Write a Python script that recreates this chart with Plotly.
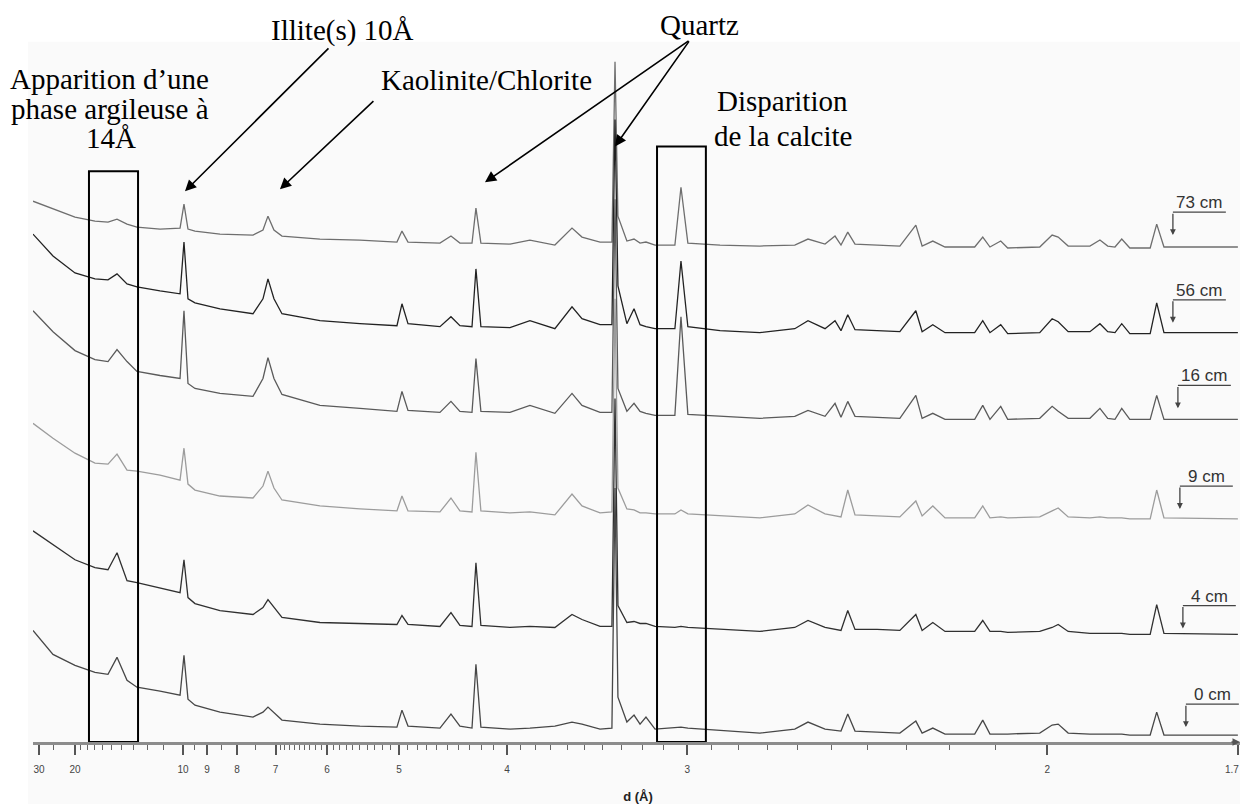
import plotly.graph_objects as go

# ---------------- data ----------------
# d-spacings (Å) at which the diffractograms were sampled
D_GRID = [32.73, 25.12, 20.00, 16.88, 15.32, 14.40, 13.50, 12.71, 11.19, 10.14,
          9.956, 9.776, 9.476, 8.540, 7.554, 7.299, 7.178, 7.038, 6.859, 6.121,
          5.498, 5.025, 4.967, 4.899, 4.568, 4.464, 4.383, 4.278, 4.245, 4.204,
          3.979, 3.838, 3.675, 3.571, 3.513, 3.413, 3.350, 3.334, 3.319, 3.274,
          3.239, 3.210, 3.182, 3.140, 3.052, 3.026, 2.997, 2.869, 2.725, 2.610,
          2.569, 2.518, 2.489, 2.472, 2.453, 2.433, 2.374, 2.316, 2.277, 2.262,
          2.237, 2.209, 2.144, 2.127, 2.112, 2.090, 2.076, 2.014, 1.991, 1.980,
          1.962, 1.924, 1.907, 1.894, 1.882, 1.871, 1.858, 1.826, 1.816, 1.805, 1.700]

# intensities (offset, arbitrary units) for each depth
I_73 = [543, 535, 527, 523, 522, 525, 520, 517, 515, 516,
        540, 515, 513, 510, 509, 514, 528, 514, 508, 505,
        504, 502, 513, 502, 501, 508, 501, 501, 536, 501,
        500, 504, 499, 516, 507, 502, 502, 683, 528, 503,
        505, 501, 502, 499, 499, 557, 501, 499, 498, 499,
        505, 500, 508, 499, 512, 500, 499, 498, 519, 498,
        503, 497, 497, 507, 497, 503, 496, 497, 509, 507,
        498, 498, 504, 498, 497, 505, 496, 496, 520, 497, 497]
I_56 = [510, 488, 471, 465, 464, 470, 460, 457, 453, 450,
        502, 445, 441, 435, 430, 445, 465, 445, 430, 423,
        420, 418, 440, 420, 417, 427, 418, 417, 475, 417,
        416, 423, 415, 437, 425, 419, 419, 625, 458, 420,
        435, 419, 417, 415, 415, 483, 417, 413, 411, 415,
        423, 415, 423, 413, 429, 414, 413, 412, 433, 412,
        419, 411, 411, 423, 411, 419, 410, 411, 425, 422,
        412, 412, 420, 412, 411, 420, 410, 410, 441, 411, 411]
I_16 = [433, 412, 393, 384, 382, 394, 382, 372, 368, 365,
        433, 360, 355, 350, 347, 365, 386, 365, 349, 338,
        335, 332, 352, 333, 331, 342, 332, 331, 385, 332,
        331, 338, 330, 350, 338, 331, 331, 545, 355, 332,
        340, 332, 330, 328, 328, 427, 329, 327, 325, 327,
        333, 327, 340, 326, 342, 327, 326, 325, 348, 325,
        330, 324, 324, 338, 324, 337, 324, 325, 337, 332,
        325, 325, 335, 325, 324, 335, 324, 324, 348, 324, 324]
I_9 = [320, 305, 290, 280, 279, 289, 273, 272, 268, 263,
       295, 259, 253, 247, 245, 257, 272, 255, 243, 237,
       234, 232, 247, 232, 231, 245, 232, 231, 291, 232,
       230, 231, 228, 249, 237, 230, 231, 445, 255, 234,
       233, 230, 230, 229, 229, 233, 229, 227, 225, 229,
       238, 229, 227, 226, 253, 228, 227, 226, 242, 227,
       237, 225, 225, 237, 225, 226, 225, 226, 232, 235,
       226, 225, 226, 225, 225, 225, 224, 224, 253, 225, 224]
I_4 = [212, 198, 183, 175, 173, 190, 162, 160, 155, 150,
       183, 145, 139, 132, 128, 135, 143, 135, 125, 120,
       119, 118, 127, 118, 116, 130, 117, 116, 180, 117,
       115, 116, 115, 128, 123, 116, 116, 345, 137, 120,
       121, 119, 119, 116, 115, 116, 115, 113, 111, 115,
       122, 115, 113, 112, 132, 113, 113, 112, 128, 112,
       120, 111, 111, 122, 111, 111, 110, 111, 115, 118,
       111, 109, 109, 109, 109, 109, 108, 108, 138, 109, 108]
I_0 = [112, 88, 77, 70, 68, 85, 62, 55, 51, 47,
       87, 43, 37, 30, 25, 30, 35, 29, 22, 18,
       16, 15, 32, 16, 14, 28, 16, 14, 78, 15,
       13, 14, 16, 20, 18, 13, 14, 255, 45, 20,
       27, 18, 25, 13, 14, 15, 14, 12, 9, 13,
       20, 13, 12, 11, 28, 11, 10, 9, 21, 9,
       14, 8, 8, 22, 8, 8, 8, 9, 17, 18,
       9, 8, 8, 8, 8, 8, 7, 7, 30, 7, 7]

SAMPLE_NAMES = ["73 cm", "56 cm", "16 cm", "9 cm", "4 cm", "0 cm"]
SAMPLE_SERIES = [I_73, I_56, I_16, I_9, I_4, I_0]

# axis ticks (d in Å); the last label is drawn separately so it stays inside the page
MAJOR_D = [30, 20, 10, 9, 8, 7, 6, 5, 4, 3, 2, 1.7]
MAJOR_LABELS = ["30", "20", "10", "9", "8", "7", "6", "5", "4", "3", "2", ""]
END_LABEL = "1.7"
MINOR_D = ([25] + list(range(19, 10, -1)) + [9.5, 8.5, 7.5]
           + [round(7 - 0.1 * i, 1) for i in range(1, 10)]
           + [round(6 - 0.1 * i, 1) for i in range(1, 10)]
           + [round(5 - 0.1 * i, 1) for i in range(1, 10)]
           + [round(4 - 0.1 * i, 1) for i in range(1, 10)]
           + [round(3 - 0.1 * i, 1) for i in range(1, 10)])

# ---------------- styling / layout ----------------
COLORS = ["#6e6e6e", "#222222", "#5a5a5a", "#9c9c9c", "#303030", "#474747"]
X_RANGE = [0.03056, 0.5906]     # 1/d
Y_RANGE = [0, 737]

# label bracket positions (d of corner, height of arrow tip)
LABEL_D = [1.7916, 1.7916, 1.7842, 1.7813, 1.7769, 1.7725]
LABEL_TIP = [509, 421, 335, 234, 114, 15]
BRACKET_H = 23
BRACKET_W = 0.0245

fig = go.Figure()

for name, series, color in zip(SAMPLE_NAMES, SAMPLE_SERIES, COLORS):
    fig.add_trace(go.Scatter(
        x=[1.0 / d for d in D_GRID], y=series, mode="lines", name=name,
        line=dict(color=color, width=1.3), showlegend=False))

annotations = []
shapes = []

# light background panel
shapes.append(dict(type="rect", xref="paper", yref="paper", x0=-0.004, x1=1.01,
                   y0=-0.091, y1=0.954, fillcolor="#fafafa", line=dict(width=0),
                   layer="below"))

# depth labels with bracket arrows
for name, d, tip in zip(SAMPLE_NAMES, LABEL_D, LABEL_TIP):
    q = 1.0 / d
    corner = tip + BRACKET_H
    shapes.append(dict(type="line", xref="x", yref="y", x0=q, x1=q + BRACKET_W,
                       y0=corner, y1=corner, line=dict(color="#444", width=1.3)))
    annotations.append(dict(x=q, y=tip, ax=q, ay=corner, axref="x", ayref="y",
                            xref="x", yref="y", text="", showarrow=True,
                            arrowhead=2, arrowsize=0.9, arrowwidth=1.3, arrowcolor="#444"))
    annotations.append(dict(x=q + BRACKET_W / 2, y=corner - 2, xref="x", yref="y",
                            text=name, showarrow=False, yanchor="bottom",
                            font=dict(family="Arial", size=17, color="#333")))

# highlight boxes
BOXES = [(17.71, 12.63, 573), (3.131, 2.924, 598)]
for d0, d1, top in BOXES:
    shapes.append(dict(type="rect", xref="x", yref="y", x0=1 / d0, x1=1 / d1,
                       y0=0, y1=top, line=dict(color="black", width=2),
                       fillcolor="rgba(0,0,0,0)"))

serif = dict(family="Liberation Serif, Times New Roman, serif", size=29, color="black")
TEXTS = [
    ("Illite(s) 10Å", 1 / 5.76, 714),
    ("Apparition d’une", 1 / 15.11, 666),
    ("phase argileuse à", 1 / 15.11, 636),
    ("14Å", 1 / 15.0, 606),
    ("Kaolinite/Chlorite", 1 / 4.155, 665),
    ("Quartz", 1 / 2.948, 720),
    ("Disparition", 1 / 2.648, 644),
    ("de la calcite", 1 / 2.648, 608),
]
for txt, x, y in TEXTS:
    annotations.append(dict(x=x, y=y, xref="x", yref="y", text=txt, showarrow=False,
                            font=serif, xanchor="center", yanchor="middle"))

ARROWS = [  # (tip d, tip h, tail d, tail h)
    (9.911, 553, 5.952, 698),
    (6.903, 555, 5.296, 645),
    (4.171, 562, 2.988, 705),
    (3.334, 598, 2.988, 705),
]
for td, th, sd, sh in ARROWS:
    annotations.append(dict(x=1 / td, y=th, ax=1 / sd, ay=sh, xref="x", yref="y",
                            axref="x", ayref="y", text="", showarrow=True,
                            arrowhead=2, arrowsize=1.4, arrowwidth=1.6, arrowcolor="black"))

# end-of-axis tick label and arrow
annotations.append(dict(x=1 / MAJOR_D[-1], y=0, xref="x", yref="paper", text=END_LABEL,
                        showarrow=False, xanchor="right", yanchor="top", xshift=3, yshift=-20,
                        font=dict(family="Arial", size=10, color="#444")))
annotations.append(dict(x=0.9975, y=0, xref="paper", yref="paper", ax=-10, ay=0,
                        text="", showarrow=True, arrowhead=2, arrowsize=1,
                        arrowwidth=1.5, arrowcolor="#555"))

fig.update_layout(
    width=1240, height=796,
    margin=dict(l=25, r=5, t=0, b=59),
    paper_bgcolor="white", plot_bgcolor="rgba(0,0,0,0)",
    shapes=shapes, annotations=annotations,
    xaxis=dict(
        range=X_RANGE, showgrid=False, zeroline=False,
        showline=True, linecolor="#8c8c8c", linewidth=2.5,
        tickmode="array", tickvals=[1 / d for d in MAJOR_D], ticktext=MAJOR_LABELS,
        ticks="outside", ticklen=10, tickwidth=1.5, tickcolor="#555",
        ticklabelstandoff=6,
        tickfont=dict(family="Arial", size=10, color="#444"),
        minor=dict(tickmode="array", tickvals=[1 / d for d in MINOR_D],
                   ticks="outside", ticklen=5, tickwidth=1, tickcolor="#666"),
        title=dict(text="<b>d (Å)</b>", font=dict(family="Arial", size=13, color="#222"),
                   standoff=20),
    ),
    yaxis=dict(range=Y_RANGE, visible=False, showgrid=False, zeroline=False),
)

fig.write_html("out.html")
